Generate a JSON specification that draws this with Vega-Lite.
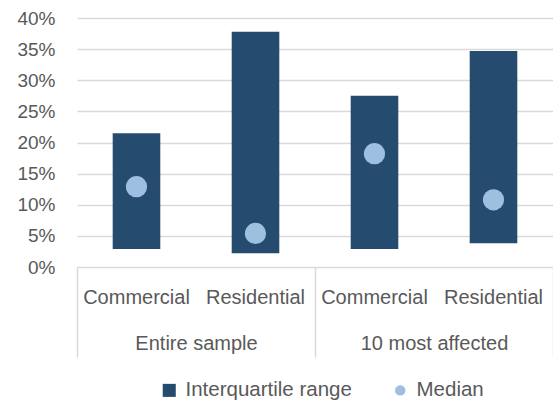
{
  "$schema": "https://vega.github.io/schema/vega-lite/v6.json",
  "width": 476,
  "height": 249,
  "autosize": {"type": "none"},
  "padding": {"left": 77, "top": 18, "right": 0, "bottom": 136},
  "config": {"view": {"stroke": null}, "font": "Liberation Sans"},
  "data": {
    "values": [
      {"bar": "Entire sample|Commercial", "group": "Entire sample", "type": "Commercial", "q1": 0.029, "q3": 0.215, "median": 0.129},
      {"bar": "Entire sample|Residential", "group": "Entire sample", "type": "Residential", "q1": 0.022, "q3": 0.378, "median": 0.054},
      {"bar": "10 most affected|Commercial", "group": "10 most affected", "type": "Commercial", "q1": 0.029, "q3": 0.275, "median": 0.182},
      {"bar": "10 most affected|Residential", "group": "10 most affected", "type": "Residential", "q1": 0.038, "q3": 0.347, "median": 0.108}
    ]
  },
  "layer": [
    {
      "layer": [
        {
          "mark": {"type": "bar", "width": {"band": 0.4}},
          "encoding": {
            "x": {
              "field": "bar", "type": "nominal", "sort": null,
              "scale": {"paddingInner": 0, "paddingOuter": 0},
              "axis": {
                "orient": "bottom",
                "title": null, "labelExpr": "split(datum.label, '|')[1]",
                "ticks": false, "domain": false, "labelPadding": 20,
                "labelFontSize": 20, "labelColor": "#595959", "labelAngle": 0
              }
            },
            "y": {
              "field": "q1", "type": "quantitative",
              "scale": {"domain": [0, 0.4], "nice": false, "zero": true},
              "axis": {
                "title": null, "format": ".0%",
                "values": [0, 0.05, 0.1, 0.15, 0.2, 0.25, 0.3, 0.35, 0.4],
                "domain": false, "ticks": false, "labelPadding": 22,
                "labelOverlap": false,
                "labelFontSize": 19, "labelColor": "#595959",
                "gridColor": "#d9d9d9", "gridWidth": 1.5
              }
            },
            "y2": {"field": "q3"},
            "color": {
              "datum": "Interquartile range", "type": "nominal",
              "scale": {"domain": ["Interquartile range", "Median"], "range": ["#254b6e", "#9dbfe0"]},
              "legend": {
                "title": null, "orient": "none", "direction": "horizontal",
                "legendX": 82, "legendY": 362,
                "labelFontSize": 20.5, "labelColor": "#595959", "labelLimit": 400,
                "symbolSize": 170, "columnPadding": 38, "labelOffset": 6,
                "symbolOpacity": 1,
                "encode": {
                  "symbols": {
                    "update": {
                      "shape": {"signal": "datum.value === 'Median' ? 'circle' : 'square'"},
                      "size": {"signal": "datum.value === 'Median' ? 110 : 170"}
                    }
                  }
                }
              }
            }
          }
        },
        {
          "mark": {"type": "circle", "size": 450, "opacity": 1},
          "encoding": {
            "x": {"field": "bar", "type": "nominal", "sort": null},
            "y": {
              "field": "median", "type": "quantitative",
              "axis": {
                "title": null, "format": ".0%",
                "values": [0, 0.05, 0.1, 0.15, 0.2, 0.25, 0.3, 0.35, 0.4],
                "domain": false, "ticks": false, "labelPadding": 22,
                "labelOverlap": false,
                "labelFontSize": 19, "labelColor": "#595959",
                "gridColor": "#d9d9d9", "gridWidth": 1.5
              }
            },
            "color": {"datum": "Median", "type": "nominal"}
          }
        }
      ]
    },
    {
      "mark": {"type": "point", "opacity": 0},
      "encoding": {
        "x": {
          "field": "group", "type": "nominal",
          "sort": ["Entire sample", "10 most affected"],
          "scale": {"paddingInner": 0, "paddingOuter": 0},
          "axis": {
            "orient": "bottom",
            "title": null, "tickBand": "extent", "tickSize": 90,
            "tickColor": "#d9d9d9", "tickWidth": 1.5, "domain": false,
            "labelPadding": -24, "labelFontSize": 20, "labelColor": "#595959",
            "labelAngle": 0, "grid": false
          }
        },
        "y": {
          "field": "median", "type": "quantitative",
          "axis": {
            "title": null, "format": ".0%",
            "values": [0, 0.05, 0.1, 0.15, 0.2, 0.25, 0.3, 0.35, 0.4],
            "domain": false, "ticks": false, "labelPadding": 22,
            "labelOverlap": false,
            "labelFontSize": 19, "labelColor": "#595959",
            "gridColor": "#d9d9d9", "gridWidth": 1.5
          }
        }
      }
    }
  ],
  "resolve": {"scale": {"x": "independent"}, "axis": {"x": "independent"}}
}
